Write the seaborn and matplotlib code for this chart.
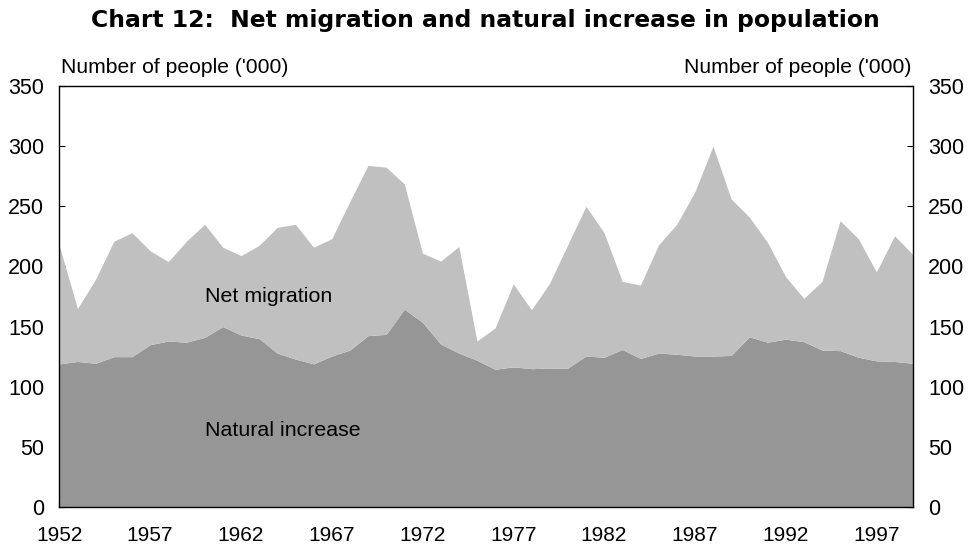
import matplotlib
matplotlib.use("Agg")
import matplotlib.pyplot as plt
import seaborn as sns
import numpy as np
import pandas as pd

years = list(range(1952, 2000))
natural_increase = [119, 121, 119.5, 125, 125, 135, 138, 137, 141, 150,
                    143, 140, 128, 123, 119, 125.5, 130.5, 142.5, 143.5, 164.5,
                    153.5, 135.5, 128, 122, 114.5, 116.5, 115, 115.5, 115.5, 125.5,
                    124.5, 131, 123.5, 128, 127, 125.5, 125.5, 126, 141.5, 137,
                    139.5, 137.5, 130.5, 130, 124.5, 121.5, 121, 119.5]
net_migration = [98, 44, 70, 96, 103, 78, 66, 84, 94, 66,
                 66, 77.5, 104.5, 112, 97, 97.5, 123.5, 141.5, 139, 104,
                 57.5, 69, 88.5, 16, 34.5, 69, 49, 70.5, 102.5, 124.5,
                 103.5, 56.5, 61, 90, 108, 136.5, 174.5, 130, 99.5, 83,
                 52, 36, 57, 108, 98.5, 74, 104.5, 90.5]
tick_years = [1952, 1957, 1962, 1967, 1972, 1977, 1982, 1987, 1992, 1997]
y_ticks = [0, 50, 100, 150, 200, 250, 300, 350]

df = pd.DataFrame({"year": years, "natural": natural_increase, "net": net_migration})

sns.set_theme(style="ticks")
plt.rcParams["font.family"] = ["Liberation Sans", "DejaVu Sans"]
plt.rcParams["text.color"] = "black"

fig = plt.figure(figsize=(9.71, 5.47), dpi=100)
ax = fig.add_axes([0.0611, 0.0731, 0.8789, 0.7697])

ax.stackplot(df["year"], df["natural"], df["net"],
             colors=["#969696", "#c0c0c0"], linewidth=0)

ax.set_xlim(1952, 1999)
ax.set_ylim(0, 350)
ax.set_xticks(tick_years)
ax.set_xticklabels([str(t) for t in tick_years])
ax.set_yticks(y_ticks)
for s in ax.spines.values():
    s.set_visible(True)
    s.set_color("black")
    s.set_linewidth(1.0)

ax.tick_params(axis="both", direction="in", length=4.5, width=0.8,
               colors="black", labelsize=15.5)
ax.tick_params(axis="x", pad=13.5, labelsize=15)
ax.tick_params(axis="y", pad=11, left=True, right=True,
               labelleft=True, labelright=True)
ax.set_xlabel("")
ax.set_ylabel("")

ax.text(1960.0, 175, "Net migration", fontsize=15.4, va="center", ha="left", color="black")
ax.text(1960.0, 64, "Natural increase", fontsize=15.4, va="center", ha="left", color="black")

fig.text(0.0625, 0.877, "Number of people ('000)", fontsize=15.2, ha="left", va="center", color="black")
fig.text(0.939, 0.877, "Number of people ('000)", fontsize=15.2, ha="right", va="center", color="black")

fig.text(0.5, 0.963, "Chart 12:  Net migration and natural increase in population",
         fontsize=16.9, fontweight="bold", ha="center", va="center",
         family=["DejaVu Sans"], color="black")

fig.savefig("out.png", dpi=100)
